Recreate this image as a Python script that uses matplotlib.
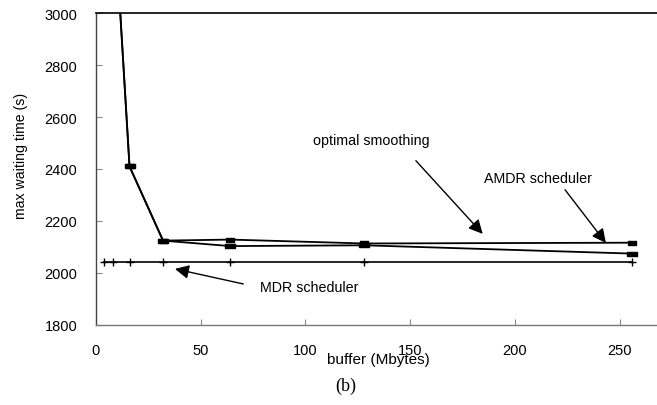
import matplotlib
matplotlib.use('Agg')
import matplotlib.pyplot as plt

plt.rcParams['font.family'] = ['Liberation Sans', 'DejaVu Sans']

# buffer sizes (Mbytes) and max waiting times (s)
buffer_mdr = [4, 8, 16, 32, 64, 128, 256]
mdr = [2042, 2042, 2042, 2042, 2042, 2042, 2042]

buffer_curves = [8, 16, 32, 64, 128, 256]
smoothing = [3480, 2410, 2124, 2103, 2106, 2074]
amdr = [3480, 2410, 2124, 2128, 2113, 2116]

yticks = [1800, 2000, 2200, 2400, 2600, 2800, 3000]
xticks = [0, 50, 100, 150, 200, 250]

fig = plt.figure(figsize=(6.57, 4.06), dpi=100)
ax = fig.add_axes([96/657, 80.3/406, 1 - 96/657, 311.4/406])

rect = [(-1, -0.55), (1, -0.55), (1, 0.55), (-1, 0.55), (-1, -0.55)]
ax.plot(buffer_curves, smoothing, color='k', lw=1.3, marker=rect, ms=6.5)
ax.plot(buffer_curves, amdr, color='k', lw=1.3, marker=rect, ms=5.5)
ax.plot(buffer_mdr, mdr, color='k', lw=1.2, marker='+', ms=6, mew=1.0)

ax.set_xlim(0, 267.8)
ax.set_ylim(1800, 3000)
ax.set_xticks(xticks)
ax.set_yticks(yticks)
ax.tick_params(axis='both', direction='in', length=4, width=0.8, color='#888888',
               labelsize=10.5, pad=13.5)

ax.spines['right'].set_visible(False)
ax.spines['top'].set_color('black')
ax.spines['top'].set_linewidth(1.2)
ax.spines['left'].set_color('#444444')
ax.spines['left'].set_linewidth(1.0)
ax.spines['bottom'].set_color('#777777')
ax.spines['bottom'].set_linewidth(1.0)

ax.set_xlabel('buffer (Mbytes)', fontsize=11)
ax.xaxis.label.set_verticalalignment('center')
ax.xaxis.set_label_coords(0.5027, -0.110)
ax.set_ylabel('max waiting time (s)', fontsize=10.2)
ax.yaxis.label.set_verticalalignment('center')
ax.yaxis.set_label_coords(-0.1337, 0.545)

arrow = dict(arrowstyle='-|>,head_length=0.6,head_width=0.3', mutation_scale=14,
             color='k', lw=1.0, shrinkA=0, shrinkB=0)
ax.annotate('', xy=(184.6, 2150), xytext=(152.7, 2432), arrowprops=arrow)
ax.text(131.3, 2512, 'optimal smoothing', fontsize=10.3, ha='center', va='center')
ax.annotate('', xy=(243.4, 2115), xytext=(223.9, 2320), arrowprops=arrow)
ax.text(211, 2365, 'AMDR scheduler', fontsize=10.3, ha='center', va='center')
ax.annotate('', xy=(37.7, 2015), xytext=(70.3, 1957), arrowprops=arrow)
ax.text(101.7, 1945, 'MDR scheduler', fontsize=10.3, ha='center', va='center')

fig.text(346/657, 1 - 386/406, '(b)', fontsize=13, ha='center', va='center',
         family=['Liberation Serif', 'DejaVu Serif'])

fig.savefig('out.png', dpi=100)
